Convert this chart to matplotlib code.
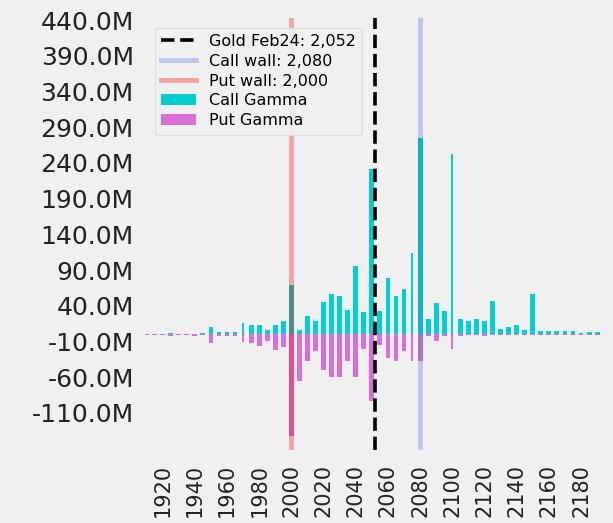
import numpy as np
import matplotlib
matplotlib.use("Agg")
import matplotlib.pyplot as plt
from matplotlib.ticker import FuncFormatter

# strikes and gamma exposure (millions)
strikes = [1910, 1915, 1920, 1925, 1930, 1935, 1940, 1945, 1950, 1955,
           1960, 1965, 1970, 1975, 1980, 1985, 1990, 1995, 2000, 2005,
           2010, 2015, 2020, 2025, 2030, 2035, 2040, 2045, 2050, 2055,
           2060, 2065, 2070, 2075, 2080, 2085, 2090, 2095, 2100, 2105,
           2110, 2115, 2120, 2125, 2130, 2135, 2140, 2145, 2150, 2155,
           2160, 2165, 2170, 2175, 2180, 2185, 2190]
call_gamma = [0.3, 0.3, 0.3, 1.5, 0.3, 0.3, 0.3, 1.5, 10, 3,
              3, 3, 16, 13, 13, 6, 13, 19, 69, 6,
              26, 19, 45, 57, 54, 34, 96, 31, 231, 32,
              79, 54, 63, 114, 275, 21, 44, 32, 253, 21,
              19, 21, 19, 47, 7, 10, 13, 6, 57, 4,
              4, 4, 4, 4, 2, 3, 3]
put_gamma = [-0.3, -0.3, -0.3, -2, -0.3, -0.3, -3, -0.3, -12, -2,
             -3, -3, -11, -12, -16, -9, -22, -18, -142, -65,
             -37, -24, -50, -60, -60, -37, -60, -21, -94, -15,
             -33, -37, -24, -37, -37, -2, -9, -2, -21, -2,
             -0.5, -0.5, -2, -0.3, -0.3, -0.3, -0.3, -0.3, -0.3, -0.3,
             -0.3, -0.3, -0.3, -0.3, -0.3, -0.3, -0.3]

spot = 2052
call_wall = 2080
put_wall = 2000
thin = [1970, 2075, 2100]   # strikes drawn as narrow bars

widths = [1.3 if s in thin else 3.0 for s in strikes]

fig = plt.figure(figsize=(6.13, 5.23), dpi=100, facecolor='#f0f0f0')
ax = fig.add_axes([0.2365, 0.1396, 0.7455, 0.826])
ax.set_facecolor('#f0f0f0')

ax.axvline(spot, color='black', ls='--', lw=2.6, label='Gold Feb24: 2,052', zorder=5)
ax.axvline(call_wall, color='royalblue', lw=3.5, alpha=0.3, label='Call wall: 2,080', zorder=4)
ax.axvline(put_wall, color='red', lw=3.5, alpha=0.32, label='Put wall: 2,000', zorder=4)

ax.bar(strikes, call_gamma, width=widths, color='darkturquoise', label='Call Gamma', zorder=2)
ax.bar(strikes, put_gamma, width=widths, color='orchid', label='Put Gamma', zorder=2)

ax.set_xlim(1909, 2193)
ax.set_ylim(-162, 443)
ax.set_xticks(np.arange(1920, 2181, 20))
ax.set_yticks(np.arange(-110, 441, 50))
ax.yaxis.set_major_formatter(FuncFormatter(lambda v, p: f'{v:.1f}M'))
ax.tick_params(axis='y', labelsize=18, length=0, pad=8, labelcolor='#222222')
ax.tick_params(axis='x', labelsize=15, length=0, pad=10, labelcolor='#222222', rotation=90)
for sp in ax.spines.values():
    sp.set_visible(False)
ax.grid(False)

ax.legend(loc='upper left', fontsize=11.5, facecolor='#f0f0f0', edgecolor='#dddddd',
          framealpha=0.9, borderaxespad=0.6, handlelength=2.2, labelspacing=0.3)

fig.savefig('out.png', dpi=100, facecolor='#f0f0f0')
